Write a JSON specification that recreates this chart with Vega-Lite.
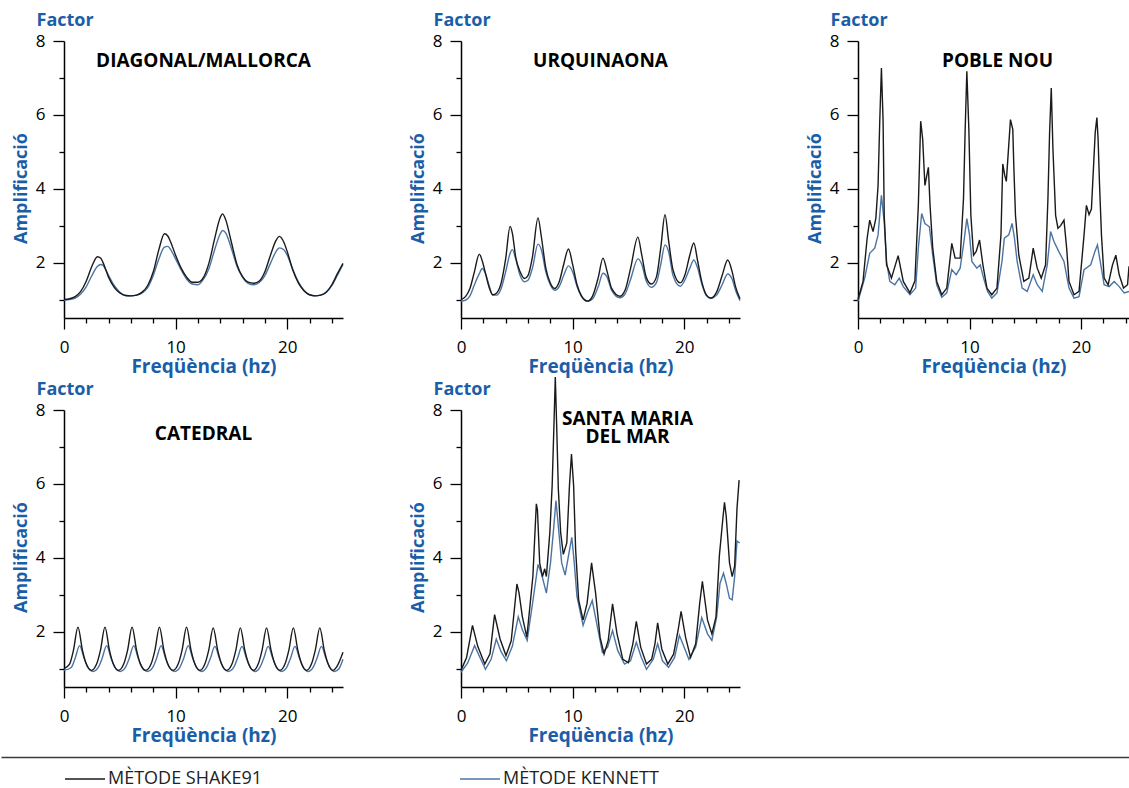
{
"$schema": "https://vega.github.io/schema/vega-lite/v6.json",
"background": "white",
"padding": {"left": 0, "top": 11, "right": 0, "bottom": 0},
"bounds": "flush",
"columns": 3,
"spacing": {"row": 92, "column": 118},
"resolve": {"scale": {"x": "independent", "y": "independent"}},
"concat": [
     {"width": 279, "height": 277,
      "title": {"text": "DIAGONAL/MALLORCA", "offset": -60},
      "data": {"name": "diagonal"},
      "transform": [{"fold": ["SHAKE91", "KENNETT"], "as": ["method", "amp"]}, {"filter": "datum.amp != null"}],
      "encoding": {
        "x": {"field": "freq", "type": "quantitative", "title": "Freqüència (hz)", "scale": {"domain": [0, 25], "nice": false, "zero": false},
              "axis": {"values": [0,2,4,6,8,10,12,14,16,18,20,22,24], "labelExpr": "datum.value % 10 === 0 ? datum.label : ''", "tickSize": {"condition": {"test": "datum.value % 10 === 0", "value": 11}, "value": 5}, "labelPadding": 10, "titlePadding": 2}},
        "color": {"field": "method", "type": "nominal", "scale": {"domain": ["SHAKE91", "KENNETT"], "range": ["#1a1a1a", "#4b74a3"]},
              "legend": {"orient": "none", "legendX": 0, "legendY": 717, "direction": "horizontal", "title": null, "symbolType": "stroke", "symbolSize": 1600, "symbolStrokeWidth": 1.5, "labelFont": "Open Sans", "labelFontSize": 18, "labelColor": "#222", "columnPadding": 195, "labelOffset": 2, "padding": 0, "labelExpr": "'MÈTODE ' + datum.label"}}
      },
      "resolve": {"axis": {"y": "independent"}},
      "layer": [
        {"transform": [{"filter": "datum.method === 'KENNETT'"}], "mark": {"type": "line", "interpolate": "monotone"},
         "encoding": {"y": {"field": "amp", "type": "quantitative", "title": "Amplificació", "scale": {"domain": [0.5, 8], "nice": false, "zero": false},
           "axis": {"values": [1,2,3,4,5,6,7,8], "labelExpr": "datum.value % 2 === 0 ? datum.label : ''", "tickSize": {"condition": {"test": "datum.value % 2 === 0", "value": 11}, "value": 5}, "labelPadding": 8, "titlePadding": 5, "titleY": 147}}}},
        {"transform": [{"filter": "datum.method === 'SHAKE91'"}], "mark": {"type": "line", "interpolate": "monotone"},
         "encoding": {"y": {"field": "amp", "type": "quantitative", "title": "Factor",
           "axis": {"orient": "left", "domain": false, "ticks": false, "labels": false, "titleAngle": 0, "titleX": -28, "titleY": -16, "titleAlign": "left", "titleBaseline": "alphabetic"}}}}
      ]},
     {"width": 279, "height": 277,
      "title": {"text": "URQUINAONA", "offset": -60},
      "data": {"name": "urquinaona"},
      "transform": [{"fold": ["SHAKE91", "KENNETT"], "as": ["method", "amp"]}, {"filter": "datum.amp != null"}],
      "encoding": {
        "x": {"field": "freq", "type": "quantitative", "title": "Freqüència (hz)", "scale": {"domain": [0, 25], "nice": false, "zero": false},
              "axis": {"values": [0,2,4,6,8,10,12,14,16,18,20,22,24], "labelExpr": "datum.value % 10 === 0 ? datum.label : ''", "tickSize": {"condition": {"test": "datum.value % 10 === 0", "value": 11}, "value": 5}, "labelPadding": 10, "titlePadding": 2}},
        "color": {"field": "method", "type": "nominal", "scale": {"domain": ["SHAKE91", "KENNETT"], "range": ["#1a1a1a", "#4b74a3"]},
              "legend": {"orient": "none", "legendX": 0, "legendY": 717, "direction": "horizontal", "title": null, "symbolType": "stroke", "symbolSize": 1600, "symbolStrokeWidth": 1.5, "labelFont": "Open Sans", "labelFontSize": 18, "labelColor": "#222", "columnPadding": 195, "labelOffset": 2, "padding": 0, "labelExpr": "'MÈTODE ' + datum.label"}}
      },
      "resolve": {"axis": {"y": "independent"}},
      "layer": [
        {"transform": [{"filter": "datum.method === 'KENNETT'"}], "mark": {"type": "line", "interpolate": "monotone"},
         "encoding": {"y": {"field": "amp", "type": "quantitative", "title": "Amplificació", "scale": {"domain": [0.5, 8], "nice": false, "zero": false},
           "axis": {"values": [1,2,3,4,5,6,7,8], "labelExpr": "datum.value % 2 === 0 ? datum.label : ''", "tickSize": {"condition": {"test": "datum.value % 2 === 0", "value": 11}, "value": 5}, "labelPadding": 8, "titlePadding": 5, "titleY": 147}}}},
        {"transform": [{"filter": "datum.method === 'SHAKE91'"}], "mark": {"type": "line", "interpolate": "monotone"},
         "encoding": {"y": {"field": "amp", "type": "quantitative", "title": "Factor",
           "axis": {"orient": "left", "domain": false, "ticks": false, "labels": false, "titleAngle": 0, "titleX": -28, "titleY": -16, "titleAlign": "left", "titleBaseline": "alphabetic"}}}}
      ]},
     {"width": 271, "height": 277,
      "title": {"text": "POBLE NOU", "offset": -60, "dx": 4},
      "data": {"name": "poblenou"},
      "transform": [{"fold": ["SHAKE91", "KENNETT"], "as": ["method", "amp"]}, {"filter": "datum.amp != null"}],
      "encoding": {
        "x": {"field": "freq", "type": "quantitative", "title": "Freqüència (hz)", "scale": {"domain": [0, 24.3], "nice": false, "zero": false},
              "axis": {"values": [0,2,4,6,8,10,12,14,16,18,20,22,24], "labelExpr": "datum.value % 10 === 0 ? datum.label : ''", "tickSize": {"condition": {"test": "datum.value % 10 === 0", "value": 11}, "value": 5}, "labelPadding": 10, "titlePadding": 2}},
        "color": {"field": "method", "type": "nominal", "scale": {"domain": ["SHAKE91", "KENNETT"], "range": ["#1a1a1a", "#4b74a3"]},
              "legend": {"orient": "none", "legendX": 0, "legendY": 717, "direction": "horizontal", "title": null, "symbolType": "stroke", "symbolSize": 1600, "symbolStrokeWidth": 1.5, "labelFont": "Open Sans", "labelFontSize": 18, "labelColor": "#222", "columnPadding": 195, "labelOffset": 2, "padding": 0, "labelExpr": "'MÈTODE ' + datum.label"}}
      },
      "resolve": {"axis": {"y": "independent"}},
      "layer": [
        {"transform": [{"filter": "datum.method === 'KENNETT'"}], "mark": {"type": "line"},
         "encoding": {"y": {"field": "amp", "type": "quantitative", "title": "Amplificació", "scale": {"domain": [0.5, 8], "nice": false, "zero": false},
           "axis": {"values": [1,2,3,4,5,6,7,8], "labelExpr": "datum.value % 2 === 0 ? datum.label : ''", "tickSize": {"condition": {"test": "datum.value % 2 === 0", "value": 11}, "value": 5}, "labelPadding": 8, "titlePadding": 5, "titleY": 147}}}},
        {"transform": [{"filter": "datum.method === 'SHAKE91'"}], "mark": {"type": "line"},
         "encoding": {"y": {"field": "amp", "type": "quantitative", "title": "Factor",
           "axis": {"orient": "left", "domain": false, "ticks": false, "labels": false, "titleAngle": 0, "titleX": -28, "titleY": -16, "titleAlign": "left", "titleBaseline": "alphabetic"}}}}
      ]},
     {"width": 279, "height": 277,
      "title": {"text": "CATEDRAL", "offset": -64},
      "data": {"name": "catedral"},
      "transform": [{"fold": ["SHAKE91", "KENNETT"], "as": ["method", "amp"]}, {"filter": "datum.amp != null"}],
      "resolve": {"scale": {"x": "independent"}, "axis": {"x": "independent"}},
      "layer": [
       {"encoding": {
         "x": {"field": "freq", "type": "quantitative", "title": "Freqüència (hz)", "scale": {"domain": [0, 25], "nice": false, "zero": false},
              "axis": {"values": [0,2,4,6,8,10,12,14,16,18,20,22,24], "labelExpr": "datum.value % 10 === 0 ? datum.label : ''", "tickSize": {"condition": {"test": "datum.value % 10 === 0", "value": 11}, "value": 5}, "labelPadding": 10, "titlePadding": 2}},
         "color": {"field": "method", "type": "nominal", "scale": {"domain": ["SHAKE91", "KENNETT"], "range": ["#1a1a1a", "#4b74a3"]},
              "legend": {"orient": "none", "legendX": 0, "legendY": 717, "direction": "horizontal", "title": null, "symbolType": "stroke", "symbolSize": 1600, "symbolStrokeWidth": 1.5, "labelFont": "Open Sans", "labelFontSize": 18, "labelColor": "#222", "columnPadding": 195, "labelOffset": 2, "padding": 0, "labelExpr": "'MÈTODE ' + datum.label"}}
        },
        "resolve": {"axis": {"y": "independent"}},
        "layer": [
         {"transform": [{"filter": "datum.method === 'KENNETT'"}], "mark": {"type": "line", "interpolate": "monotone"},
          "encoding": {"y": {"field": "amp", "type": "quantitative", "title": "Amplificació", "scale": {"domain": [0.5, 8], "nice": false, "zero": false},
            "axis": {"values": [1,2,3,4,5,6,7,8], "labelExpr": "datum.value % 2 === 0 ? datum.label : ''", "tickSize": {"condition": {"test": "datum.value % 2 === 0", "value": 11}, "value": 5}, "labelPadding": 8, "titlePadding": 5, "titleY": 147}}}},
         {"transform": [{"filter": "datum.method === 'SHAKE91'"}], "mark": {"type": "line", "interpolate": "monotone"},
          "encoding": {"y": {"field": "amp", "type": "quantitative", "title": "Factor",
            "axis": {"orient": "left", "domain": false, "ticks": false, "labels": false, "titleAngle": 0, "titleX": -28, "titleY": -16, "titleAlign": "left", "titleBaseline": "alphabetic"}}}}
        ]},
       {"transform": [{"filter": "datum.freq === 0"}],
        "mark": {"type": "point", "opacity": 0, "size": 1, "filled": true, "strokeWidth": 0},
        "encoding": {"x": {"field": "freq", "type": "quantitative", "scale": {"domain": [0, 1], "range": [-63, 1066]},
          "axis": {"orient": "bottom", "offset": 70, "domain": true, "domainColor": "#3a3a3a", "domainWidth": 1.5, "ticks": false, "labels": false, "title": null, "grid": false}}}}
      ]},
     {"width": 279, "height": 277,
      "title": {"text": ["SANTA MARIA", "DEL MAR"], "offset": -73, "dx": 27, "lineHeight": 18},
      "data": {"name": "santamaria"},
      "transform": [{"fold": ["SHAKE91", "KENNETT"], "as": ["method", "amp"]}, {"filter": "datum.amp != null"}],
      "encoding": {
        "x": {"field": "freq", "type": "quantitative", "title": "Freqüència (hz)", "scale": {"domain": [0, 25], "nice": false, "zero": false},
              "axis": {"values": [0,2,4,6,8,10,12,14,16,18,20,22,24], "labelExpr": "datum.value % 10 === 0 ? datum.label : ''", "tickSize": {"condition": {"test": "datum.value % 10 === 0", "value": 11}, "value": 5}, "labelPadding": 10, "titlePadding": 2}},
        "color": {"field": "method", "type": "nominal", "scale": {"domain": ["SHAKE91", "KENNETT"], "range": ["#1a1a1a", "#4b74a3"]},
              "legend": {"orient": "none", "legendX": 0, "legendY": 717, "direction": "horizontal", "title": null, "symbolType": "stroke", "symbolSize": 1600, "symbolStrokeWidth": 1.5, "labelFont": "Open Sans", "labelFontSize": 18, "labelColor": "#222", "columnPadding": 195, "labelOffset": 2, "padding": 0, "labelExpr": "'MÈTODE ' + datum.label"}}
      },
      "resolve": {"axis": {"y": "independent"}},
      "layer": [
        {"transform": [{"filter": "datum.method === 'KENNETT'"}], "mark": {"type": "line"},
         "encoding": {"y": {"field": "amp", "type": "quantitative", "title": "Amplificació", "scale": {"domain": [0.5, 8], "nice": false, "zero": false},
           "axis": {"values": [1,2,3,4,5,6,7,8], "labelExpr": "datum.value % 2 === 0 ? datum.label : ''", "tickSize": {"condition": {"test": "datum.value % 2 === 0", "value": 11}, "value": 5}, "labelPadding": 8, "titlePadding": 5, "titleY": 147}}}},
        {"transform": [{"filter": "datum.method === 'SHAKE91'"}], "mark": {"type": "line"},
         "encoding": {"y": {"field": "amp", "type": "quantitative", "title": "Factor",
           "axis": {"orient": "left", "domain": false, "ticks": false, "labels": false, "titleAngle": 0, "titleX": -28, "titleY": -16, "titleAlign": "left", "titleBaseline": "alphabetic"}}}}
      ]}
],
"datasets": {
 "diagonal": [
  {"freq":0,"SHAKE91":1.0,"KENNETT":0.98},{"freq":0.5,"SHAKE91":1.02,"KENNETT":1.0},{"freq":1,"SHAKE91":1.08,"KENNETT":1.04},{"freq":1.5,"SHAKE91":1.22,"KENNETT":1.15},
  {"freq":2,"SHAKE91":1.5,"KENNETT":1.35},{"freq":2.5,"SHAKE91":1.9,"KENNETT":1.65},{"freq":3,"SHAKE91":2.16,"KENNETT":1.9},{"freq":3.3,"SHAKE91":2.12,"KENNETT":1.95},
  {"freq":3.5,"SHAKE91":2.0,"KENNETT":1.92},{"freq":4,"SHAKE91":1.6,"KENNETT":1.65},{"freq":4.5,"SHAKE91":1.33,"KENNETT":1.38},{"freq":5,"SHAKE91":1.18,"KENNETT":1.2},
  {"freq":5.5,"SHAKE91":1.11,"KENNETT":1.11},{"freq":6,"SHAKE91":1.1,"KENNETT":1.1},{"freq":6.5,"SHAKE91":1.12,"KENNETT":1.12},{"freq":7,"SHAKE91":1.2,"KENNETT":1.18},
  {"freq":7.5,"SHAKE91":1.38,"KENNETT":1.32},{"freq":8,"SHAKE91":1.75,"KENNETT":1.65},{"freq":8.5,"SHAKE91":2.35,"KENNETT":2.1},{"freq":9,"SHAKE91":2.78,"KENNETT":2.42},
  {"freq":9.3,"SHAKE91":2.72,"KENNETT":2.44},{"freq":9.5,"SHAKE91":2.6,"KENNETT":2.38},{"freq":10,"SHAKE91":2.2,"KENNETT":2.1},{"freq":10.5,"SHAKE91":1.85,"KENNETT":1.8},
  {"freq":11,"SHAKE91":1.6,"KENNETT":1.55},{"freq":11.5,"SHAKE91":1.47,"KENNETT":1.42},{"freq":12,"SHAKE91":1.47,"KENNETT":1.4},{"freq":12.5,"SHAKE91":1.6,"KENNETT":1.55},
  {"freq":13,"SHAKE91":2.0,"KENNETT":1.85},{"freq":13.5,"SHAKE91":2.65,"KENNETT":2.35},{"freq":14,"SHAKE91":3.22,"KENNETT":2.78},{"freq":14.2,"SHAKE91":3.32,"KENNETT":2.87},
  {"freq":14.5,"SHAKE91":3.15,"KENNETT":2.8},{"freq":15,"SHAKE91":2.55,"KENNETT":2.38},{"freq":15.5,"SHAKE91":1.95,"KENNETT":1.9},{"freq":16,"SHAKE91":1.62,"KENNETT":1.6},
  {"freq":16.5,"SHAKE91":1.47,"KENNETT":1.44},{"freq":17,"SHAKE91":1.44,"KENNETT":1.4},{"freq":17.5,"SHAKE91":1.5,"KENNETT":1.46},{"freq":18,"SHAKE91":1.75,"KENNETT":1.65},
  {"freq":18.5,"SHAKE91":2.2,"KENNETT":1.98},{"freq":19,"SHAKE91":2.6,"KENNETT":2.3},{"freq":19.3,"SHAKE91":2.71,"KENNETT":2.4},{"freq":19.7,"SHAKE91":2.55,"KENNETT":2.35},
  {"freq":20,"SHAKE91":2.3,"KENNETT":2.2},{"freq":20.5,"SHAKE91":1.8,"KENNETT":1.82},{"freq":21,"SHAKE91":1.45,"KENNETT":1.48},{"freq":21.5,"SHAKE91":1.24,"KENNETT":1.25},
  {"freq":22,"SHAKE91":1.13,"KENNETT":1.13},{"freq":22.5,"SHAKE91":1.1,"KENNETT":1.1},{"freq":23,"SHAKE91":1.12,"KENNETT":1.12},{"freq":23.5,"SHAKE91":1.2,"KENNETT":1.2},
  {"freq":24,"SHAKE91":1.4,"KENNETT":1.38},{"freq":24.5,"SHAKE91":1.7,"KENNETT":1.66},{"freq":25,"SHAKE91":1.98,"KENNETT":1.95}
 ],
 "urquinaona": [
  {"freq":0,"SHAKE91":1.0,"KENNETT":0.96},{"freq":0.4,"SHAKE91":1.08,"KENNETT":0.98},{"freq":0.8,"SHAKE91":1.3,"KENNETT":1.1},{"freq":1.2,"SHAKE91":1.75,"KENNETT":1.4},
  {"freq":1.64,"SHAKE91":2.23,"KENNETT":1.7},{"freq":1.9,"SHAKE91":2.05,"KENNETT":1.84},{"freq":2.2,"SHAKE91":1.7,"KENNETT":1.7},{"freq":2.5,"SHAKE91":1.35,"KENNETT":1.4},
  {"freq":2.85,"SHAKE91":1.13,"KENNETT":1.12},{"freq":3.2,"SHAKE91":1.18,"KENNETT":1.12},{"freq":3.6,"SHAKE91":1.45,"KENNETT":1.3},{"freq":4.0,"SHAKE91":2.1,"KENNETT":1.75},
  {"freq":4.4,"SHAKE91":2.98,"KENNETT":2.25},{"freq":4.6,"SHAKE91":2.8,"KENNETT":2.35},{"freq":4.9,"SHAKE91":2.15,"KENNETT":2.1},{"freq":5.3,"SHAKE91":1.75,"KENNETT":1.65},
  {"freq":5.68,"SHAKE91":1.57,"KENNETT":1.48},{"freq":6.0,"SHAKE91":1.65,"KENNETT":1.52},{"freq":6.4,"SHAKE91":2.15,"KENNETT":1.85},{"freq":6.9,"SHAKE91":3.21,"KENNETT":2.5},
  {"freq":7.2,"SHAKE91":2.7,"KENNETT":2.35},{"freq":7.6,"SHAKE91":1.85,"KENNETT":1.75},{"freq":8.0,"SHAKE91":1.45,"KENNETT":1.4},{"freq":8.4,"SHAKE91":1.3,"KENNETT":1.25},
  {"freq":8.8,"SHAKE91":1.48,"KENNETT":1.35},{"freq":9.2,"SHAKE91":1.95,"KENNETT":1.65},{"freq":9.63,"SHAKE91":2.37,"KENNETT":1.91},{"freq":10.0,"SHAKE91":1.95,"KENNETT":1.75},
  {"freq":10.4,"SHAKE91":1.4,"KENNETT":1.35},{"freq":10.8,"SHAKE91":1.1,"KENNETT":1.08},{"freq":11.35,"SHAKE91":0.96,"KENNETT":0.95},{"freq":11.8,"SHAKE91":1.1,"KENNETT":1.02},
  {"freq":12.3,"SHAKE91":1.6,"KENNETT":1.35},{"freq":12.72,"SHAKE91":2.12,"KENNETT":1.71},{"freq":13.1,"SHAKE91":1.75,"KENNETT":1.6},{"freq":13.5,"SHAKE91":1.3,"KENNETT":1.25},
  {"freq":14.24,"SHAKE91":1.09,"KENNETT":1.05},{"freq":14.7,"SHAKE91":1.25,"KENNETT":1.15},{"freq":15.2,"SHAKE91":1.85,"KENNETT":1.55},{"freq":15.85,"SHAKE91":2.69,"KENNETT":2.1},
  {"freq":16.2,"SHAKE91":2.2,"KENNETT":1.95},{"freq":16.6,"SHAKE91":1.6,"KENNETT":1.5},{"freq":17.06,"SHAKE91":1.42,"KENNETT":1.33},{"freq":17.5,"SHAKE91":1.6,"KENNETT":1.45},
  {"freq":17.9,"SHAKE91":2.4,"KENNETT":1.95},{"freq":18.28,"SHAKE91":3.3,"KENNETT":2.48},{"freq":18.6,"SHAKE91":2.6,"KENNETT":2.3},{"freq":19.0,"SHAKE91":1.8,"KENNETT":1.65},
  {"freq":19.64,"SHAKE91":1.45,"KENNETT":1.36},{"freq":20.1,"SHAKE91":1.7,"KENNETT":1.55},{"freq":20.5,"SHAKE91":2.2,"KENNETT":1.85},{"freq":20.86,"SHAKE91":2.53,"KENNETT":2.07},
  {"freq":21.2,"SHAKE91":2.05,"KENNETT":1.85},{"freq":21.6,"SHAKE91":1.45,"KENNETT":1.4},{"freq":22.0,"SHAKE91":1.12,"KENNETT":1.1},{"freq":22.38,"SHAKE91":1.04,"KENNETT":1.03},
  {"freq":22.9,"SHAKE91":1.2,"KENNETT":1.12},{"freq":23.4,"SHAKE91":1.65,"KENNETT":1.4},{"freq":23.9,"SHAKE91":2.07,"KENNETT":1.69},{"freq":24.3,"SHAKE91":1.75,"KENNETT":1.55},
  {"freq":24.6,"SHAKE91":1.35,"KENNETT":1.25},{"freq":25,"SHAKE91":1.02,"KENNETT":0.97}
 ],
 "poblenou": [
  {"freq":0,"SHAKE91":1.0},{"freq":0.45,"SHAKE91":1.49},{"freq":0.82,"SHAKE91":2.66},{"freq":1.05,"SHAKE91":3.15},{"freq":1.35,"SHAKE91":2.84},{"freq":1.6,"SHAKE91":3.2},
  {"freq":1.8,"SHAKE91":4.09},{"freq":1.95,"SHAKE91":5.83},{"freq":2.1,"SHAKE91":7.27},{"freq":2.25,"SHAKE91":5.83},{"freq":2.35,"SHAKE91":3.28},{"freq":2.56,"SHAKE91":1.94},
  {"freq":3.0,"SHAKE91":1.58},{"freq":3.6,"SHAKE91":2.19},{"freq":4.06,"SHAKE91":1.49},{"freq":4.66,"SHAKE91":1.18},{"freq":5.1,"SHAKE91":1.5},{"freq":5.41,"SHAKE91":3.55},
  {"freq":5.62,"SHAKE91":5.83},{"freq":5.8,"SHAKE91":5.34},{"freq":6.0,"SHAKE91":4.09},{"freq":6.31,"SHAKE91":4.58},{"freq":6.46,"SHAKE91":3.55},{"freq":6.7,"SHAKE91":2.39},
  {"freq":7.06,"SHAKE91":1.49},{"freq":7.51,"SHAKE91":1.13},{"freq":7.96,"SHAKE91":1.31},{"freq":8.41,"SHAKE91":2.52},{"freq":8.71,"SHAKE91":2.12},{"freq":9.16,"SHAKE91":2.12},
  {"freq":9.46,"SHAKE91":3.73},{"freq":9.61,"SHAKE91":5.61},{"freq":9.76,"SHAKE91":7.18},{"freq":9.94,"SHAKE91":5.61},{"freq":10.12,"SHAKE91":3.28},{"freq":10.36,"SHAKE91":2.2},
  {"freq":10.6,"SHAKE91":2.3},{"freq":10.9,"SHAKE91":2.61},{"freq":11.2,"SHAKE91":1.94},{"freq":11.56,"SHAKE91":1.31},{"freq":12.0,"SHAKE91":1.13},{"freq":12.46,"SHAKE91":1.31},
  {"freq":12.82,"SHAKE91":2.75},{"freq":12.98,"SHAKE91":4.67},{"freq":13.16,"SHAKE91":4.36},{"freq":13.3,"SHAKE91":4.2},{"freq":13.67,"SHAKE91":5.87},{"freq":13.88,"SHAKE91":5.61},
  {"freq":13.97,"SHAKE91":4.63},{"freq":14.12,"SHAKE91":3.28},{"freq":14.42,"SHAKE91":2.2},{"freq":14.87,"SHAKE91":1.49},{"freq":15.32,"SHAKE91":1.58},{"freq":15.71,"SHAKE91":2.39},
  {"freq":16.07,"SHAKE91":1.85},{"freq":16.43,"SHAKE91":1.58},{"freq":16.82,"SHAKE91":1.94},{"freq":17.03,"SHAKE91":3.73},{"freq":17.18,"SHAKE91":5.52},{"freq":17.33,"SHAKE91":6.73},
  {"freq":17.48,"SHAKE91":5.07},{"freq":17.72,"SHAKE91":3.28},{"freq":17.93,"SHAKE91":2.93},{"freq":18.17,"SHAKE91":3.0},{"freq":18.47,"SHAKE91":3.15},{"freq":18.71,"SHAKE91":2.39},
  {"freq":18.92,"SHAKE91":1.49},{"freq":19.37,"SHAKE91":1.13},{"freq":19.82,"SHAKE91":1.22},{"freq":20.27,"SHAKE91":2.75},{"freq":20.48,"SHAKE91":3.55},{"freq":20.72,"SHAKE91":3.3},
  {"freq":20.93,"SHAKE91":3.45},{"freq":21.27,"SHAKE91":5.52},{"freq":21.42,"SHAKE91":5.93},{"freq":21.53,"SHAKE91":5.34},{"freq":21.65,"SHAKE91":4.18},{"freq":21.83,"SHAKE91":2.75},
  {"freq":22.07,"SHAKE91":1.58},{"freq":22.43,"SHAKE91":1.4},{"freq":22.82,"SHAKE91":1.94},{"freq":23.12,"SHAKE91":2.2},{"freq":23.42,"SHAKE91":1.67},{"freq":23.81,"SHAKE91":1.31},
  {"freq":24.17,"SHAKE91":1.4},{"freq":24.3,"SHAKE91":1.9},
  {"freq":0,"KENNETT":0.96},{"freq":0.6,"KENNETT":1.58},{"freq":1.05,"KENNETT":2.25},{"freq":1.5,"KENNETT":2.39},{"freq":1.8,"KENNETT":2.75},{"freq":2.1,"KENNETT":3.82},
  {"freq":2.35,"KENNETT":3.1},{"freq":2.56,"KENNETT":2.03},{"freq":2.85,"KENNETT":1.49},{"freq":3.3,"KENNETT":1.4},{"freq":3.7,"KENNETT":1.58},{"freq":4.06,"KENNETT":1.35},
  {"freq":4.66,"KENNETT":1.13},{"freq":5.17,"KENNETT":1.31},{"freq":5.41,"KENNETT":2.39},{"freq":5.71,"KENNETT":3.33},{"freq":6.0,"KENNETT":3.06},{"freq":6.4,"KENNETT":2.97},
  {"freq":6.7,"KENNETT":2.2},{"freq":7.06,"KENNETT":1.4},{"freq":7.51,"KENNETT":1.06},{"freq":7.96,"KENNETT":1.18},{"freq":8.41,"KENNETT":1.81},{"freq":8.8,"KENNETT":1.67},
  {"freq":9.16,"KENNETT":1.85},{"freq":9.46,"KENNETT":2.48},{"freq":9.76,"KENNETT":3.19},{"freq":10.0,"KENNETT":2.75},{"freq":10.21,"KENNETT":2.03},{"freq":10.66,"KENNETT":1.85},
  {"freq":10.96,"KENNETT":1.94},{"freq":11.26,"KENNETT":1.58},{"freq":11.62,"KENNETT":1.22},{"freq":12.0,"KENNETT":1.04},{"freq":12.46,"KENNETT":1.18},{"freq":12.91,"KENNETT":2.03},
  {"freq":13.12,"KENNETT":2.66},{"freq":13.52,"KENNETT":2.75},{"freq":13.82,"KENNETT":3.06},{"freq":14.03,"KENNETT":2.66},{"freq":14.27,"KENNETT":2.03},{"freq":14.72,"KENNETT":1.31},
  {"freq":15.17,"KENNETT":1.22},{"freq":15.71,"KENNETT":1.67},{"freq":16.07,"KENNETT":1.4},{"freq":16.52,"KENNETT":1.22},{"freq":16.97,"KENNETT":1.94},{"freq":17.27,"KENNETT":2.84},
  {"freq":17.57,"KENNETT":2.57},{"freq":18.02,"KENNETT":2.29},{"freq":18.47,"KENNETT":2.03},{"freq":18.92,"KENNETT":1.31},{"freq":19.37,"KENNETT":1.04},{"freq":19.82,"KENNETT":1.08},
  {"freq":20.27,"KENNETT":1.81},{"freq":20.87,"KENNETT":1.94},{"freq":21.23,"KENNETT":2.29},{"freq":21.47,"KENNETT":2.48},{"freq":21.77,"KENNETT":1.94},{"freq":22.07,"KENNETT":1.4},
  {"freq":22.52,"KENNETT":1.35},{"freq":22.97,"KENNETT":1.49},{"freq":23.42,"KENNETT":1.35},{"freq":23.87,"KENNETT":1.18},{"freq":24.3,"KENNETT":1.22}
 ],
 "catedral": [
  {"freq":0,"SHAKE91":1.0},{"freq":0.5,"SHAKE91":1.12},{"freq":0.85,"SHAKE91":1.5},{"freq":1.25,"SHAKE91":2.12},{"freq":1.65,"SHAKE91":1.5},{"freq":2.0,"SHAKE91":1.12},
  {"freq":2.46,"SHAKE91":0.95},{"freq":2.92,"SHAKE91":1.12},{"freq":3.27,"SHAKE91":1.5},{"freq":3.67,"SHAKE91":2.12},{"freq":4.07,"SHAKE91":1.5},{"freq":4.42,"SHAKE91":1.12},
  {"freq":4.88,"SHAKE91":0.95},{"freq":5.35,"SHAKE91":1.12},{"freq":5.7,"SHAKE91":1.5},{"freq":6.1,"SHAKE91":2.12},{"freq":6.5,"SHAKE91":1.5},{"freq":6.85,"SHAKE91":1.12},
  {"freq":7.33,"SHAKE91":0.95},{"freq":7.8,"SHAKE91":1.12},{"freq":8.15,"SHAKE91":1.5},{"freq":8.55,"SHAKE91":2.12},{"freq":8.95,"SHAKE91":1.5},{"freq":9.3,"SHAKE91":1.12},
  {"freq":9.77,"SHAKE91":0.95},{"freq":10.23,"SHAKE91":1.12},{"freq":10.58,"SHAKE91":1.5},{"freq":10.98,"SHAKE91":2.12},{"freq":11.38,"SHAKE91":1.5},{"freq":11.73,"SHAKE91":1.12},
  {"freq":12.18,"SHAKE91":0.95},{"freq":12.62,"SHAKE91":1.12},{"freq":12.97,"SHAKE91":1.5},{"freq":13.37,"SHAKE91":2.1},{"freq":13.77,"SHAKE91":1.5},{"freq":14.12,"SHAKE91":1.12},
  {"freq":14.58,"SHAKE91":0.95},{"freq":15.05,"SHAKE91":1.12},{"freq":15.4,"SHAKE91":1.5},{"freq":15.8,"SHAKE91":2.1},{"freq":16.2,"SHAKE91":1.5},{"freq":16.55,"SHAKE91":1.12},
  {"freq":16.98,"SHAKE91":0.95},{"freq":17.4,"SHAKE91":1.12},{"freq":17.75,"SHAKE91":1.5},{"freq":18.15,"SHAKE91":2.1},{"freq":18.55,"SHAKE91":1.5},{"freq":18.9,"SHAKE91":1.12},
  {"freq":19.35,"SHAKE91":0.95},{"freq":19.8,"SHAKE91":1.12},{"freq":20.15,"SHAKE91":1.5},{"freq":20.55,"SHAKE91":2.1},{"freq":20.95,"SHAKE91":1.5},{"freq":21.3,"SHAKE91":1.12},
  {"freq":21.73,"SHAKE91":0.95},{"freq":22.17,"SHAKE91":1.12},{"freq":22.52,"SHAKE91":1.5},{"freq":22.92,"SHAKE91":2.1},{"freq":23.32,"SHAKE91":1.5},{"freq":23.67,"SHAKE91":1.12},
  {"freq":24.1,"SHAKE91":0.95},{"freq":24.5,"SHAKE91":1.08},{"freq":25,"SHAKE91":1.44},
  {"freq":0,"KENNETT":0.95},{"freq":0.65,"KENNETT":1.03},{"freq":1.0,"KENNETT":1.28},{"freq":1.4,"KENNETT":1.62},{"freq":1.8,"KENNETT":1.28},{"freq":2.15,"KENNETT":1.03},
  {"freq":2.6,"KENNETT":0.92},{"freq":3.07,"KENNETT":1.03},{"freq":3.42,"KENNETT":1.28},{"freq":3.82,"KENNETT":1.62},{"freq":4.22,"KENNETT":1.28},{"freq":4.57,"KENNETT":1.03},
  {"freq":5.03,"KENNETT":0.92},{"freq":5.5,"KENNETT":1.03},{"freq":5.85,"KENNETT":1.28},{"freq":6.25,"KENNETT":1.62},{"freq":6.65,"KENNETT":1.28},{"freq":7.0,"KENNETT":1.03},
  {"freq":7.48,"KENNETT":0.92},{"freq":7.95,"KENNETT":1.03},{"freq":8.3,"KENNETT":1.28},{"freq":8.7,"KENNETT":1.62},{"freq":9.1,"KENNETT":1.28},{"freq":9.45,"KENNETT":1.03},
  {"freq":9.92,"KENNETT":0.92},{"freq":10.38,"KENNETT":1.03},{"freq":10.73,"KENNETT":1.28},{"freq":11.13,"KENNETT":1.62},{"freq":11.53,"KENNETT":1.28},{"freq":11.88,"KENNETT":1.03},
  {"freq":12.33,"KENNETT":0.92},{"freq":12.77,"KENNETT":1.03},{"freq":13.12,"KENNETT":1.28},{"freq":13.52,"KENNETT":1.6},{"freq":13.92,"KENNETT":1.28},{"freq":14.27,"KENNETT":1.03},
  {"freq":14.73,"KENNETT":0.92},{"freq":15.2,"KENNETT":1.03},{"freq":15.55,"KENNETT":1.28},{"freq":15.95,"KENNETT":1.6},{"freq":16.35,"KENNETT":1.28},{"freq":16.7,"KENNETT":1.03},
  {"freq":17.13,"KENNETT":0.92},{"freq":17.55,"KENNETT":1.03},{"freq":17.9,"KENNETT":1.28},{"freq":18.3,"KENNETT":1.6},{"freq":18.7,"KENNETT":1.28},{"freq":19.05,"KENNETT":1.03},
  {"freq":19.5,"KENNETT":0.92},{"freq":19.95,"KENNETT":1.03},{"freq":20.3,"KENNETT":1.28},{"freq":20.7,"KENNETT":1.6},{"freq":21.1,"KENNETT":1.28},{"freq":21.45,"KENNETT":1.03},
  {"freq":21.88,"KENNETT":0.92},{"freq":22.32,"KENNETT":1.03},{"freq":22.67,"KENNETT":1.28},{"freq":23.07,"KENNETT":1.6},{"freq":23.47,"KENNETT":1.28},{"freq":23.82,"KENNETT":1.03},
  {"freq":24.25,"KENNETT":0.92},{"freq":24.65,"KENNETT":1.0},{"freq":25,"KENNETT":1.25}
 ],
 "santamaria": [
  {"freq":0,"SHAKE91":0.95},{"freq":0.5,"SHAKE91":1.3},{"freq":1.03,"SHAKE91":2.17},{"freq":1.5,"SHAKE91":1.6},{"freq":2.13,"SHAKE91":1.12},{"freq":2.6,"SHAKE91":1.4},
  {"freq":3.01,"SHAKE91":2.46},{"freq":3.5,"SHAKE91":1.8},{"freq":4.03,"SHAKE91":1.35},{"freq":4.5,"SHAKE91":1.75},{"freq":5.01,"SHAKE91":3.29},{"freq":5.2,"SHAKE91":3.05},
  {"freq":5.5,"SHAKE91":2.4},{"freq":5.9,"SHAKE91":1.85},{"freq":6.44,"SHAKE91":3.49},{"freq":6.75,"SHAKE91":5.46},{"freq":6.85,"SHAKE91":5.3},{"freq":7.05,"SHAKE91":3.86},
  {"freq":7.3,"SHAKE91":3.49},{"freq":7.5,"SHAKE91":3.7},{"freq":7.65,"SHAKE91":3.49},{"freq":7.96,"SHAKE91":4.68},{"freq":8.17,"SHAKE91":5.96},{"freq":8.33,"SHAKE91":7.61},
  {"freq":8.45,"SHAKE91":8.89},{"freq":8.57,"SHAKE91":7.61},{"freq":8.72,"SHAKE91":5.87},{"freq":8.93,"SHAKE91":4.68},{"freq":9.17,"SHAKE91":4.09},{"freq":9.48,"SHAKE91":4.4},
  {"freq":9.72,"SHAKE91":5.96},{"freq":9.9,"SHAKE91":6.81},{"freq":10.09,"SHAKE91":5.96},{"freq":10.27,"SHAKE91":4.23},{"freq":10.54,"SHAKE91":2.86},{"freq":10.94,"SHAKE91":2.31},
  {"freq":11.3,"SHAKE91":2.77},{"freq":11.7,"SHAKE91":3.86},{"freq":12.06,"SHAKE91":3.04},{"freq":12.46,"SHAKE91":1.85},{"freq":12.82,"SHAKE91":1.39},{"freq":13.19,"SHAKE91":1.76},
  {"freq":13.58,"SHAKE91":2.75},{"freq":13.98,"SHAKE91":1.94},{"freq":14.5,"SHAKE91":1.25},{"freq":15.0,"SHAKE91":1.16},{"freq":15.4,"SHAKE91":1.67},{"freq":15.71,"SHAKE91":2.28},
  {"freq":16.1,"SHAKE91":1.58},{"freq":16.62,"SHAKE91":1.12},{"freq":17.08,"SHAKE91":1.25},{"freq":17.38,"SHAKE91":1.67},{"freq":17.62,"SHAKE91":2.24},{"freq":17.99,"SHAKE91":1.53},
  {"freq":18.53,"SHAKE91":1.12},{"freq":19.05,"SHAKE91":1.39},{"freq":19.45,"SHAKE91":2.03},{"freq":19.72,"SHAKE91":2.55},{"freq":20.12,"SHAKE91":1.85},{"freq":20.57,"SHAKE91":1.3},
  {"freq":21.03,"SHAKE91":1.67},{"freq":21.39,"SHAKE91":2.77},{"freq":21.63,"SHAKE91":3.36},{"freq":22.09,"SHAKE91":2.31},{"freq":22.48,"SHAKE91":1.94},{"freq":22.85,"SHAKE91":2.4},
  {"freq":23.15,"SHAKE91":4.05},{"freq":23.46,"SHAKE91":5.05},{"freq":23.61,"SHAKE91":5.5},{"freq":23.76,"SHAKE91":5.14},{"freq":24.06,"SHAKE91":3.86},{"freq":24.3,"SHAKE91":3.49},
  {"freq":24.52,"SHAKE91":3.77},{"freq":24.73,"SHAKE91":5.33},{"freq":24.92,"SHAKE91":6.1},
  {"freq":0,"KENNETT":0.9},{"freq":0.6,"KENNETT":1.15},{"freq":1.22,"KENNETT":1.62},{"freq":1.7,"KENNETT":1.3},{"freq":2.19,"KENNETT":0.98},{"freq":2.7,"KENNETT":1.25},
  {"freq":3.16,"KENNETT":1.8},{"freq":3.6,"KENNETT":1.45},{"freq":4.07,"KENNETT":1.21},{"freq":4.6,"KENNETT":1.6},{"freq":5.13,"KENNETT":2.4},{"freq":5.5,"KENNETT":2.05},
  {"freq":5.93,"KENNETT":1.76},{"freq":6.5,"KENNETT":2.95},{"freq":6.9,"KENNETT":3.82},{"freq":7.2,"KENNETT":3.58},{"freq":7.65,"KENNETT":3.04},{"freq":8.02,"KENNETT":3.86},
  {"freq":8.27,"KENNETT":4.68},{"freq":8.51,"KENNETT":5.55},{"freq":8.72,"KENNETT":4.86},{"freq":9.02,"KENNETT":3.86},{"freq":9.33,"KENNETT":3.53},{"freq":9.63,"KENNETT":4.05},
  {"freq":9.93,"KENNETT":4.55},{"freq":10.15,"KENNETT":3.86},{"freq":10.39,"KENNETT":2.95},{"freq":10.94,"KENNETT":2.17},{"freq":11.36,"KENNETT":2.54},{"freq":11.76,"KENNETT":2.84},
  {"freq":12.16,"KENNETT":2.22},{"freq":12.67,"KENNETT":1.44},{"freq":13.13,"KENNETT":1.58},{"freq":13.58,"KENNETT":2.03},{"freq":14.04,"KENNETT":1.49},{"freq":14.65,"KENNETT":1.12},
  {"freq":15.19,"KENNETT":1.21},{"freq":15.71,"KENNETT":1.71},{"freq":16.16,"KENNETT":1.3},{"freq":16.62,"KENNETT":0.98},{"freq":17.23,"KENNETT":1.25},{"freq":17.62,"KENNETT":1.67},
  {"freq":18.05,"KENNETT":1.21},{"freq":18.6,"KENNETT":1.03},{"freq":19.14,"KENNETT":1.3},{"freq":19.57,"KENNETT":1.9},{"freq":19.87,"KENNETT":1.67},{"freq":20.42,"KENNETT":1.25},
  {"freq":21.03,"KENNETT":1.58},{"freq":21.57,"KENNETT":2.38},{"freq":22.09,"KENNETT":1.94},{"freq":22.48,"KENNETT":1.76},{"freq":22.91,"KENNETT":2.4},{"freq":23.21,"KENNETT":3.31},
  {"freq":23.52,"KENNETT":3.58},{"freq":23.76,"KENNETT":3.31},{"freq":24.06,"KENNETT":2.9},{"freq":24.3,"KENNETT":2.86},{"freq":24.52,"KENNETT":3.49},{"freq":24.73,"KENNETT":4.45},
  {"freq":24.98,"KENNETT":4.4}
 ]
},
"config": {
  "font": "Open Sans",
  "view": {"stroke": null},
  "axis": {"grid": false, "domainColor": "#000", "domainWidth": 1.5, "tickColor": "#000", "tickWidth": 1.3, "labelFont": "Open Sans", "labelFontSize": 17, "labelColor": "#000", "titleFont": "Open Sans", "titleFontSize": 18, "titleFontWeight": "bold", "titleColor": "#1a5ea8", "labelOverlap": false, "labelFlush": false},
  "axisX": {"titleFontSize": 19},
  "title": {"font": "Open Sans", "fontSize": 19, "fontWeight": "bold", "color": "#000", "anchor": "middle", "frame": "group"},
  "line": {"strokeWidth": 1.4}
}
}
